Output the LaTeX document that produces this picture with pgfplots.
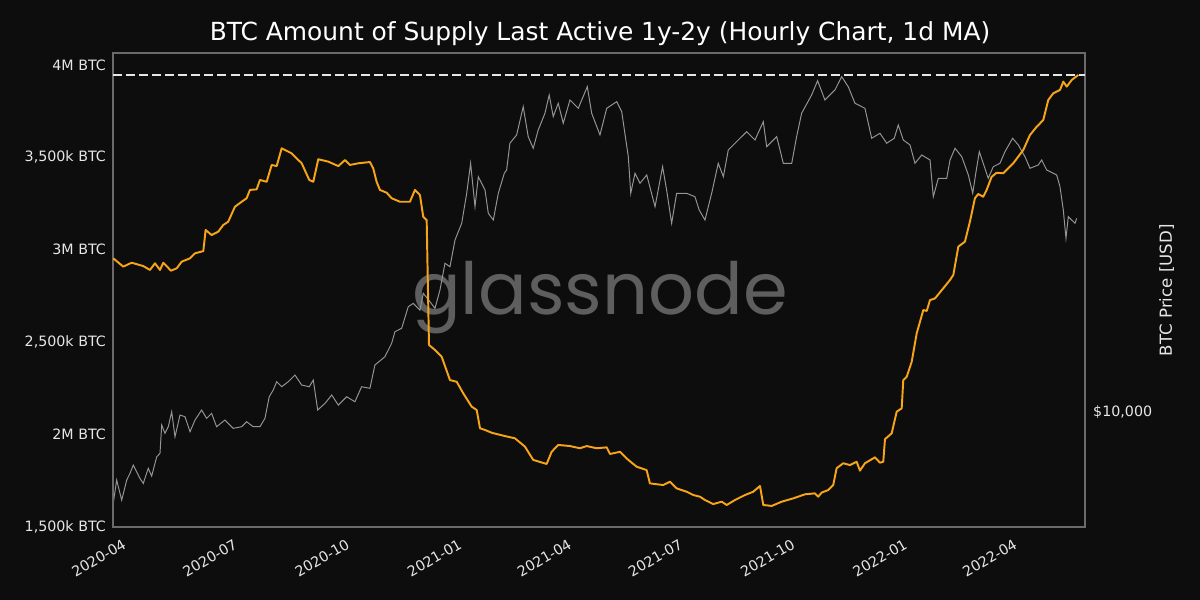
\documentclass[border=0pt]{standalone}
\usepackage{fontspec}
\setmainfont{DejaVu Sans}
\newfontfamily\wmfont{Poppins}
\usepackage{pgfplots}
\pgfplotsset{compat=1.18}
\definecolor{bg}{HTML}{0D0D0D}
\definecolor{framec}{HTML}{6A6A6A}
\definecolor{tickc}{HTML}{E6E6E6}
\definecolor{supplyc}{HTML}{F7A417}
\definecolor{pricec}{HTML}{959595}
\definecolor{wmc}{HTML}{5E5E5E}
\pgfplotsset{
  common/.style={
    scale only axis, width=699.84bp, height=341.28bp,
    xmin=-5.7, xmax=790.7,
    major tick length=0pt, minor tick length=0pt,
    scaled x ticks=false, scaled y ticks=false,
  }
}
\begin{document}
\begin{tikzpicture}[x=1bp,y=1bp]
\useasboundingbox (-81.36,-52.56) rectangle (782.64,379.44);
\fill[bg] (-81.36,-52.56) rectangle (782.64,379.44);
\node[font=\fontsize{18}{21}\selectfont, text=white, anchor=center] at (350.64,355.44) {BTC Amount of Supply Last Active 1y-2y (Hourly Chart, 1d MA)};
\node[font=\wmfont\fontsize{52}{58}\selectfont, text=wmc, anchor=center] at (350.64,165) {glassnode};
\node[font=\fontsize{12}{14}\selectfont, text=tickc, rotate=90, anchor=center] at (758.64,170.44) {BTC Price [USD]};
% price axis (right, log)
\begin{axis}[
  common,
  ymode=log, ymin=5178, ymax=78170,
  axis line style={draw=none},
  xtick=\empty,
  yticklabel pos=right,
  ytick={10000}, yticklabels={\$10{,}000},
  minor ytick={},
  yticklabel style={font=\fontsize{10.3}{12}\selectfont, text=tickc, xshift=2.4bp},
]
\addplot[pricec, line width=0.7bp, mark=none] coordinates {
(-5.5,5928) (-2.7,6772) (1.4,6040) (5.5,6772) (8.2,7037) (10.9,7380) (16.4,6839) (19.1,6645) (23.2,7244) (26,6930) (30.1,7737) (32.8,7895) (34.2,9283) (36.9,8851) (39.6,9193) (42.4,10016) (45.1,8680) (49.2,9829) (53.3,9734) (57.4,8933) (61.5,9552) (66.9,10115) (71,9645) (75.1,9926) (79.2,9193) (86,9552) (92.8,9109) (99.7,9193) (103.8,9460) (109.2,9193) (114.7,9193) (118.8,9645) (122.3,10916) (125.6,11343) (128.4,11895) (132.5,11559) (137.9,11895) (143.4,12359) (148.9,11672) (155.1,11559) (158.4,12011) (162,10115) (168,10511) (173.5,11023) (178.9,10409) (185.7,10916) (192.5,10608) (198,11559) (204.8,11455) (208.9,13091) (217.1,13728) (222.6,14823) (225.3,15841) (230.8,16151) (236.2,18276) (240.3,18637) (245.8,17935) (248.5,19740) (254,18810) (258.1,18110) (262.2,20117) (266.3,23440) (270.4,22985) (274.5,26782) (280,29478) (284.1,34995) (287.3,41553) (290.9,32411) (293.6,38483) (299.1,35663) (301.8,31208) (305.9,30031) (310,34995) (314.9,39254) (316.8,39994) (319.5,46615) (325,48870) (330.4,57468) (334.5,48393) (338.6,45290) (342.7,50292) (348.2,55335) (351.7,61447) (355,54276) (359.1,58612) (363.2,52265) (368.7,59710) (375.5,56942) (382.9,64450) (386.5,55335) (393.3,48870) (398.8,56942) (407,59135) (411.1,55847) (416.5,43161) (418.5,34995) (422,39254) (426.1,37062) (431.6,38876) (438.4,32411) (444.6,40756) (447.9,35663) (452,29478) (456.1,34995) (464.3,34995) (471.1,34324) (474.6,31806) (479.3,30031) (484.8,34995) (490.2,41553) (494.4,38483) (498.4,44843) (506.6,47487) (513.5,49808) (520.3,47487) (527.1,52737) (529.9,45707) (538.1,48393) (543.5,41553) (550.4,41553) (554.4,48393) (558.5,55335) (566.7,61447) (571.6,66699) (577.6,59710) (585.8,63241) (591.3,68253) (596.7,64450) (602.2,58612) (610.4,56942) (615.9,47960) (622.7,49352) (628.2,46615) (634.4,47960) (637.7,51751) (641.8,47487) (647.3,46166) (651.4,41553) (656.9,43580) (663.7,42354) (666.4,34324) (670.5,38131) (677.4,38131) (680.1,42354) (684.2,45290) (689.7,43161) (695.1,38876) (698.7,34995) (701.4,39615) (704.1,44413) (707.3,41553) (711.4,38131) (715.5,40756) (721,41553) (725.1,44413) (731.4,47960) (736,46166) (741.5,43161) (745.6,40383) (752.4,41160) (755.2,42354) (759.3,39994) (767.5,38876) (770.2,36343) (772.9,31806) (775.1,27042) (777,30604) (782.5,29478) (783.9,30324)
};
\end{axis}
% supply axis (left)
\begin{axis}[
  common,
  ymin=1500, ymax=4065,
  axis line style={draw=framec, line width=0.8bp},
  xtick={0,91,183,275,365,456,548,640,730},
  xticklabels={2020-04,2020-07,2020-10,2021-01,2021-04,2021-07,2021-10,2022-01,2022-04},
  xticklabel style={font=\fontsize{10.3}{12}\selectfont, text=tickc, inner sep=0pt, xshift=1.4bp, yshift=-8bp, rotate=30, anchor=north east},
  ytick={1500,2000,2500,3000,3500,4000},
  yticklabels={{1,500k BTC},{2M BTC},{2,500k BTC},{3M BTC},{3,500k BTC},{4M BTC}},
  yticklabel style={font=\fontsize{10.3}{12}\selectfont, text=tickc, xshift=-1.6bp},
]
\addplot[tickc, line width=1.4bp, dash pattern=on 6.5bp off 2.9bp, mark=none] coordinates {(-5.7,3946) (790.7,3946)};
\addplot[supplyc, line width=1.4bp, mark=none, line join=round] coordinates {
(-5.5,2954) (2.7,2909) (9.6,2930) (19.1,2912) (24.6,2891) (28.7,2927) (32.8,2891) (35.5,2930) (41.8,2887) (46.5,2900) (50.6,2936) (57.4,2954) (61.5,2981) (68.3,2993) (70.2,3107) (75.1,3080) (80.5,3098) (84.6,3134) (88.7,3152) (94.2,3233) (99.7,3260) (103.8,3279) (106.5,3324) (112,3327) (114.7,3378) (120.2,3368) (124.3,3459) (128.4,3453) (132.5,3549) (140.7,3522) (148.9,3468) (155.1,3378) (158.4,3368) (162.5,3490) (170.7,3477) (178.9,3453) (184.4,3486) (188.4,3459) (195.2,3468) (204.8,3475) (207.5,3441) (210.3,3368) (213,3324) (218.5,3309) (222.6,3279) (229.4,3260) (237.6,3260) (241.7,3324) (245.8,3296) (248.5,3179) (251.3,3161) (253.2,2485) (258.1,2458) (263.6,2421) (270.4,2295) (275.9,2286) (281.3,2223) (288.2,2151) (292.3,2133) (295,2034) (299.1,2025) (304.6,2010) (315.4,1992) (323.6,1980) (331.8,1935) (338.6,1863) (349.6,1841) (353.7,1907) (359.1,1944) (368.7,1938) (376.9,1926) (382.4,1938) (390.6,1926) (398.8,1931) (401.5,1895) (409.7,1907) (416.5,1863) (423.4,1826) (431.5,1808) (434.2,1736) (445.1,1727) (450.6,1745) (456.1,1709) (464.3,1691) (469.7,1673) (475.2,1664) (479.3,1646) (486.1,1624) (493,1637) (497.1,1619) (503.9,1646) (512.1,1673) (518.9,1691) (524.4,1722) (527.1,1619) (534,1614) (542.2,1637) (551.7,1655) (561.3,1677) (569.4,1682) (572.1,1664) (574.9,1686) (580.3,1700) (584.4,1727) (587.2,1818) (592.6,1845) (598.1,1835) (603.6,1853) (606.3,1805) (610.4,1845) (618.6,1877) (622.7,1848) (625.4,1853) (626.8,1975) (632.3,2007) (636.4,2124) (640.5,2142) (641.8,2295) (644.6,2313) (648.7,2394) (652.8,2548) (658.2,2674) (661,2669) (663.7,2728) (667.8,2737) (674.6,2792) (680.1,2837) (682.8,2864) (686.9,3017) (692.3,3044) (696.4,3152) (700.5,3279) (703.2,3302) (707.3,3287) (710.1,3324) (714.2,3395) (718.3,3417) (723.7,3414) (731.9,3468) (740.1,3540) (745.6,3621) (751.1,3666) (756.5,3702) (760.6,3811) (764.7,3847) (770.2,3865) (772.9,3910) (775.7,3883) (779.8,3919) (785.2,3946)
};
\end{axis}
\end{tikzpicture}
\end{document}
